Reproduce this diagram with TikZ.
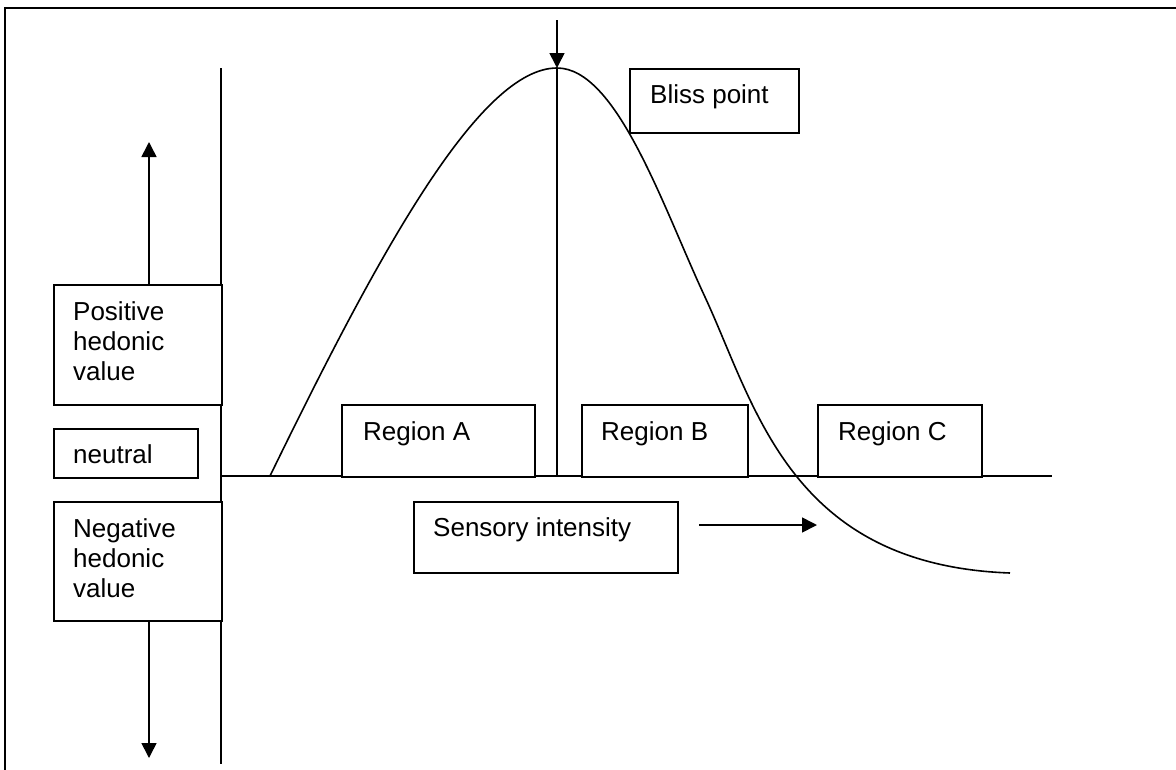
\documentclass[tikz,border=0pt]{standalone}
\usepackage{fontspec}
\setmainfont{Liberation Sans}
\usetikzlibrary{arrows.meta}
\begin{document}
\begin{tikzpicture}[x=1pt,y=-1pt,
  box/.style={draw, line width=1.6pt, fill=white, inner sep=0pt, anchor=north west},
  lbl/.style={anchor=north west, inner sep=0pt, align=left, font=\fontsize{26}{30}\selectfont},
  ln/.style={line width=1.6pt},
  arr/.style={line width=1.6pt, -{Triangle[length=15pt,width=15pt]}}]
\useasboundingbox (0,0) rectangle (1176,769);
% frame
\draw[line width=2.2pt] (1200,8) -- (5,8) -- (5,790);
% curve
\coordinate (cstart) at (270,476);
\coordinate (peak) at (557,68);
\coordinate (cinfl) at (705,297);
\coordinate (cend) at (1010,573);
\draw[ln] (cstart) .. controls (380,250) and (480,68) .. (peak)
  .. controls (617,68) and (663,207) .. (cinfl)
  .. controls (756,407) and (790,565) .. (cend);
% axes
\coordinate (vtop) at (221,68);
\coordinate (vbot) at (221,764);
\coordinate (origin) at (221,476);
\coordinate (hend) at (1052,476);
\draw[ln] (vtop) -- (vbot);
\draw[ln] (origin) -- (hend);
% peak
\coordinate (peaktop) at (557,20);
\coordinate (peakfoot) at (557,476);
\draw[ln] (peak) -- (peakfoot);
\draw[arr] (peaktop) -- (peak);
% boxes
\node[box, minimum width=168pt, minimum height=120pt] (pos) at (53,284) {};
\node[lbl] at ([xshift=20pt,yshift=-17.5pt]pos.north west) {Positive\\hedonic\\value};
\node[box, minimum width=144pt, minimum height=49pt] (neu) at (53,428) {};
\node[lbl] at ([xshift=20pt,yshift=-16.5pt]neu.north west) {neutral};
\node[box, minimum width=168pt, minimum height=119pt] (neg) at (53,501) {};
\node[lbl] at ([xshift=20pt,yshift=-17pt]neg.north west) {Negative\\hedonic\\value};
\node[box, minimum width=169pt, minimum height=64pt] (bliss) at (629,68) {};
\node[lbl] at ([xshift=21pt,yshift=-16.5pt]bliss.north west) {Bliss point};
\node[box, minimum width=193pt, minimum height=72pt] (ra) at (341,404) {};
\node[lbl] at ([xshift=22pt,yshift=-17.5pt]ra.north west) {Region A};
\node[box, minimum width=166pt, minimum height=72pt] (rb) at (581,404) {};
\node[lbl] at ([xshift=20pt,yshift=-17.5pt]rb.north west) {Region B};
\node[box, minimum width=164pt, minimum height=72pt] (rc) at (817,404) {};
\node[lbl] at ([xshift=21pt,yshift=-17.5pt]rc.north west) {Region C};
\node[box, minimum width=264pt, minimum height=71pt] (sens) at (413,501) {};
\node[lbl] at ([xshift=20pt,yshift=-16pt]sens.north west) {Sensory intensity};
% arrows
\coordinate (upstart) at ([xshift=96pt]pos.north west);
\coordinate (upend) at (149,142);
\draw[arr] (upstart) -- (upend);
\coordinate (dnstart) at ([xshift=96pt]neg.south west);
\coordinate (dnend) at (149,758);
\draw[arr] (dnstart) -- (dnend);
\coordinate (rstart) at (699,525);
\coordinate (rend) at (817,525);
\draw[arr] (rstart) -- (rend);
\end{tikzpicture}
\end{document}
